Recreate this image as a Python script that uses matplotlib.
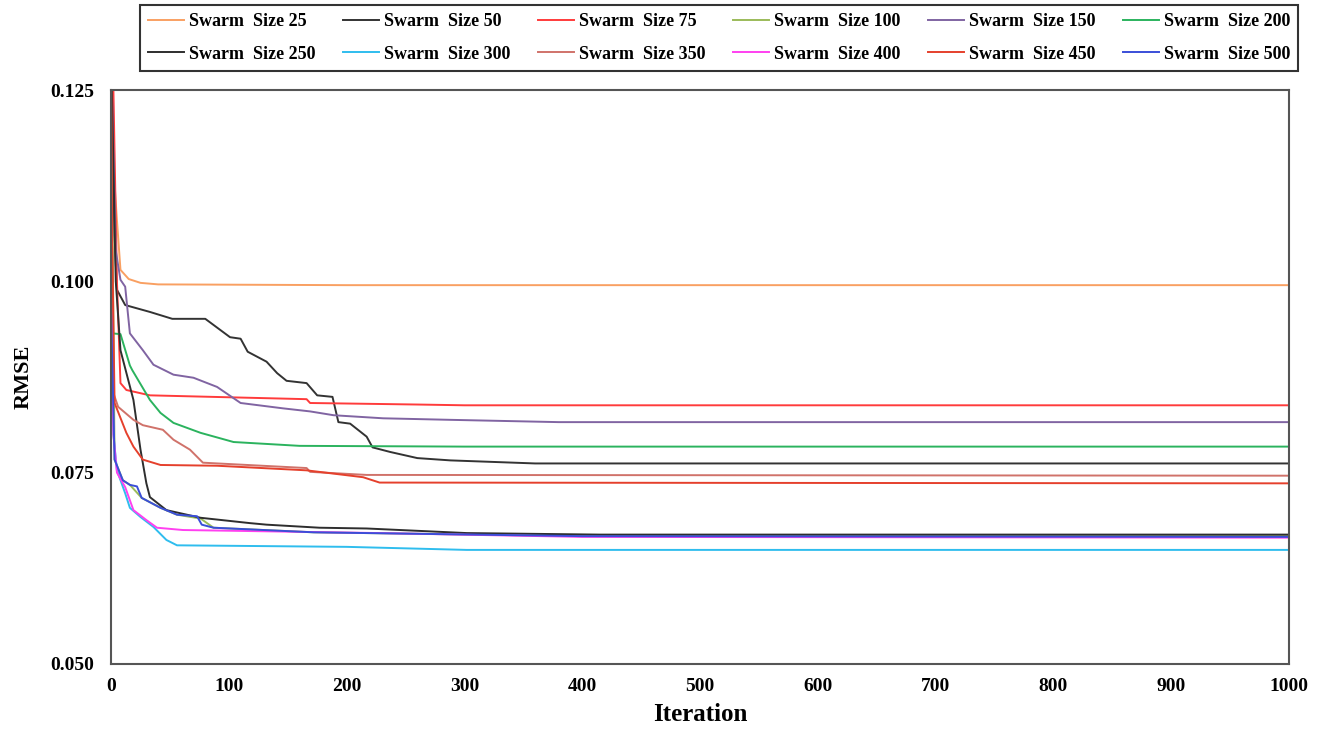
import matplotlib
matplotlib.use("Agg")
from matplotlib import pyplot as plt

# Iteracoes / RMSE (pontos de quebra de cada curva)
sizes = [25, 50, 75, 100, 150, 200, 250, 300, 350, 400, 450, 500]
colors = ["#F9A062", "#333333", "#FF3B3B", "#9BBB59", "#8064A2", "#2BB35E",
          "#2E2E2E", "#2FBDEE", "#D0726A", "#FF40F0", "#E5402C", "#3A4ED8"]

it25 = [0, 2, 5, 8, 15, 25, 40, 200, 1000]
rm25 = [0.1165, 0.1150, 0.1080, 0.1015, 0.1003, 0.0998, 0.0996, 0.0995, 0.0995]

it50 = [0, 3, 5, 12, 33, 52, 80, 101, 110, 116, 132, 141, 149, 166, 175, 188, 193, 203, 217, 222, 237, 260, 288, 360, 1000]
rm50 = [0.130, 0.1060, 0.0989, 0.0969, 0.0960, 0.0951, 0.0951, 0.0927, 0.0925, 0.0908, 0.0895, 0.0880, 0.0870, 0.0867, 0.0851, 0.0849, 0.0816, 0.0814, 0.0797, 0.0783, 0.0777, 0.0769, 0.0766, 0.0762, 0.0762]

it75 = [0, 2, 5, 8, 13, 33, 166, 169, 260, 300, 1000]
rm75 = [0.130, 0.1250, 0.1000, 0.0867, 0.0858, 0.0851, 0.0846, 0.0841, 0.0839, 0.0838, 0.0838]

it100 = [0, 3, 10, 16, 26, 42, 56, 76, 87, 172, 400, 1000]
rm100 = [0.130, 0.0767, 0.0740, 0.0734, 0.0717, 0.0704, 0.0695, 0.0690, 0.0678, 0.0672, 0.0667, 0.0667]

it150 = [0, 4, 8, 12, 16, 27, 36, 53, 70, 90, 110, 146, 169, 189, 231, 288, 380, 1000]
rm150 = [0.130, 0.1040, 0.1002, 0.0993, 0.0932, 0.0910, 0.0891, 0.0878, 0.0874, 0.0862, 0.0841, 0.0834, 0.0830, 0.0825, 0.0821, 0.0819, 0.0816, 0.0816]

it200 = [0, 1, 8, 16, 18, 33, 42, 53, 76, 104, 160, 300, 1000]
rm200 = [0.130, 0.0932, 0.0931, 0.0890, 0.0884, 0.0845, 0.0828, 0.0815, 0.0802, 0.0790, 0.0785, 0.0784, 0.0784]

it250 = [0, 4, 8, 19, 25, 30, 33, 47, 76, 118, 132, 177, 217, 302, 415, 1000]
rm250 = [0.130, 0.1000, 0.0910, 0.0845, 0.0780, 0.0736, 0.0718, 0.0701, 0.0691, 0.0684, 0.0682, 0.0678, 0.0677, 0.0671, 0.0669, 0.0669]

it300 = [0, 2, 5, 12, 16, 25, 36, 47, 56, 200, 302, 1000]
rm300 = [0.100, 0.0800, 0.0753, 0.0723, 0.0704, 0.0692, 0.0679, 0.0662, 0.0655, 0.0653, 0.0649, 0.0649]

it350 = [0, 2, 6, 19, 27, 44, 53, 67, 78, 166, 169, 217, 1000]
rm350 = [0.110, 0.0854, 0.0836, 0.0819, 0.0812, 0.0806, 0.0793, 0.0780, 0.0763, 0.0756, 0.0751, 0.0747, 0.0746]

it400 = [0, 2, 5, 12, 19, 30, 39, 61, 228, 400, 1000]
rm400 = [0.098, 0.0800, 0.0750, 0.0731, 0.0701, 0.0688, 0.0678, 0.0675, 0.0671, 0.0666, 0.0665]

it450 = [0, 1, 3, 13, 19, 27, 42, 90, 166, 214, 228, 1000]
rm450 = [0.130, 0.1050, 0.0841, 0.0802, 0.0784, 0.0767, 0.0760, 0.0759, 0.0753, 0.0744, 0.0737, 0.0736]

it500 = [0, 3, 10, 16, 22, 26, 42, 56, 73, 77, 87, 172, 400, 1000]
rm500 = [0.096, 0.0767, 0.0740, 0.0734, 0.0732, 0.0717, 0.0704, 0.0695, 0.0693, 0.0682, 0.0678, 0.0672, 0.0667, 0.0666]

iters = [it25, it50, it75, it100, it150, it200, it250, it300, it350, it400, it450, it500]
rmses = [rm25, rm50, rm75, rm100, rm150, rm200, rm250, rm300, rm350, rm400, rm450, rm500]

plt.rcParams['font.family'] = ['Liberation Serif', 'DejaVu Serif']
plt.rcParams['font.weight'] = 'bold'

fig = plt.figure(figsize=(13.22, 7.32), dpi=100)
ax = fig.add_axes([0.084, 0.093, 0.891, 0.784])

handles = {}
for k in range(len(sizes)):
    z = 1 if sizes[k] == 100 else 2
    h, = ax.plot(iters[k], rmses[k], color=colors[k], linewidth=1.4,
                 label='Swarm  Size {}'.format(sizes[k]), zorder=z)
    handles[k] = h

ax.set_xlim(0, 1000)
ax.set_ylim(0.05, 0.125)
ax.set_xticks(range(0, 1001, 100))
ax.set_yticks([0.05, 0.075, 0.1, 0.125])
ax.set_yticklabels(['0.050', '0.075', '0.100', '0.125'])
ax.tick_params(length=0, labelsize=14, pad=10)
ax.tick_params(axis='y', pad=12)
for lab in ax.get_xticklabels() + ax.get_yticklabels():
    lab.set_fontweight('bold')
for s in ax.spines.values():
    s.set_color('#555555')
    s.set_linewidth(1.5)

ax.set_xlabel('Iteration', fontsize=18, fontweight='bold', labelpad=6)
ax.set_ylabel('RMSE', fontsize=16, fontweight='bold', labelpad=12)

# legenda 6 colunas x 2 linhas, preenchida por linha
order = []
for c in range(6):
    order.append(c)
    order.append(c + 6)
leg = fig.legend([handles[i] for i in order],
                 ['Swarm  Size {}'.format(sizes[i]) for i in order],
                 ncol=6, loc='upper left', bbox_to_anchor=(0.106, 0.904, 0.876, 0.089),
                 mode='expand', fancybox=False, framealpha=1, edgecolor='#333333',
                 fontsize=13, handlelength=2.0, handletextpad=0.25, columnspacing=1.0,
                 borderaxespad=0, labelspacing=0.85, borderpad=0.45)
leg.get_frame().set_linewidth(1.5)

fig.savefig('out.png', dpi=100)
